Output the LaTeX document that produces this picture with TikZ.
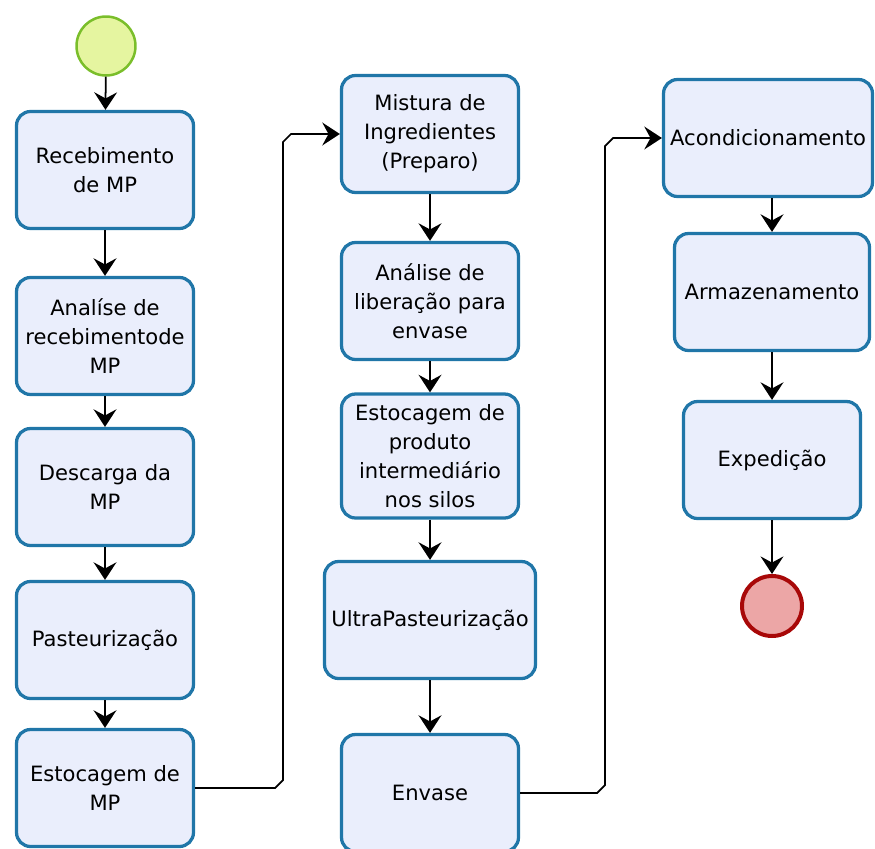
\documentclass[tikz,border=0pt]{standalone}
\usepackage{fontspec}
\setmainfont{DejaVu Sans}
\usetikzlibrary{arrows.meta}

\definecolor{taskfill}{RGB}{234,238,252}
\definecolor{taskline}{RGB}{32,118,168}
\definecolor{startfill}{RGB}{229,245,160}
\definecolor{startline}{RGB}{122,190,42}
\definecolor{endfill}{RGB}{236,166,166}
\definecolor{endline}{RGB}{168,8,8}

\begin{document}
\begin{tikzpicture}[x=0.02cm,y=-0.02cm,
  every node/.style={text centered},
  task/.style={draw=taskline,fill=taskfill,line width=0.065cm,rounded corners=0.28cm,
    minimum width=3.54cm,minimum height=2.34cm,align=center,
    font=\fontsize{12}{16.5}\selectfont},
  startev/.style={circle,draw=startline,fill=startfill,line width=0.05cm,minimum size=1.18cm},
  endev/.style={circle,draw=endline,fill=endfill,line width=0.08cm,minimum size=1.2cm},
  flow/.style={-{Stealth[length=10pt,width=13pt,inset=3.5pt]},line width=1pt,black}]

\useasboundingbox (0,0) rectangle (875,848);

% first column
\node [startev] (start) at (106,46) {};
\node [task] (recv) at (105,170) {Recebimento\\de MP};
\node [task] (anrec) at (105,336) {Analíse de\\recebimentode\\MP};
\node [task] (desc) at (105,487) {Descarga da\\MP};
\node [task] (past) at (105,640) {Pasteurização};
\node [task] (estmp) at (105,788) {Estocagem de\\MP};

% second column
\node [task] (mist) at (430,134) {Mistura de\\Ingredientes\\(Preparo)};
\node [task] (anlib) at (430,301) {Análise de\\liberação para\\envase};
\node [task,minimum height=2.48cm] (estprod) at (430,456) {Estocagem de\\produto\\intermediário\\nos silos};
\node [task,minimum width=4.22cm] (ultra) at (430,620) {UltraPasteurização};
\node [task] (envase) at (430,793) {Envase};

% third column
\node [task,minimum width=4.18cm] (acond) at (768,138) {Acondicionamento};
\node [task,minimum width=3.9cm] (armaz) at (772,292) {Armazenamento};
\node [task] (exped) at (772,460) {Expedição};
\node [endev] (finish) at (772,606) {};

\draw[flow] (start) -- (recv);
\draw[flow] (recv) -- (anrec);
\draw[flow] (anrec) -- (desc);
\draw[flow] (desc) -- (past);
\draw[flow] (past) -- (estmp);
\draw[flow] (estmp.east) -- (275,788) -- (283,780) -- (283,142) -- (291,134) -- (mist.west);

\draw[flow] (mist) -- (anlib);
\draw[flow] (anlib) -- (estprod);
\draw[flow] (estprod) -- (ultra);
\draw[flow] (ultra) -- (envase);
\draw[flow] (envase.east) -- (597,793) -- (605,785) -- (605,146) -- (613,138) -- (acond.west);

\draw[flow] (acond.south -| armaz.north) -- (armaz.north);
\draw[flow] (armaz) -- (exped);
\draw[flow] (exped) -- (finish);

\end{tikzpicture}
\end{document}
